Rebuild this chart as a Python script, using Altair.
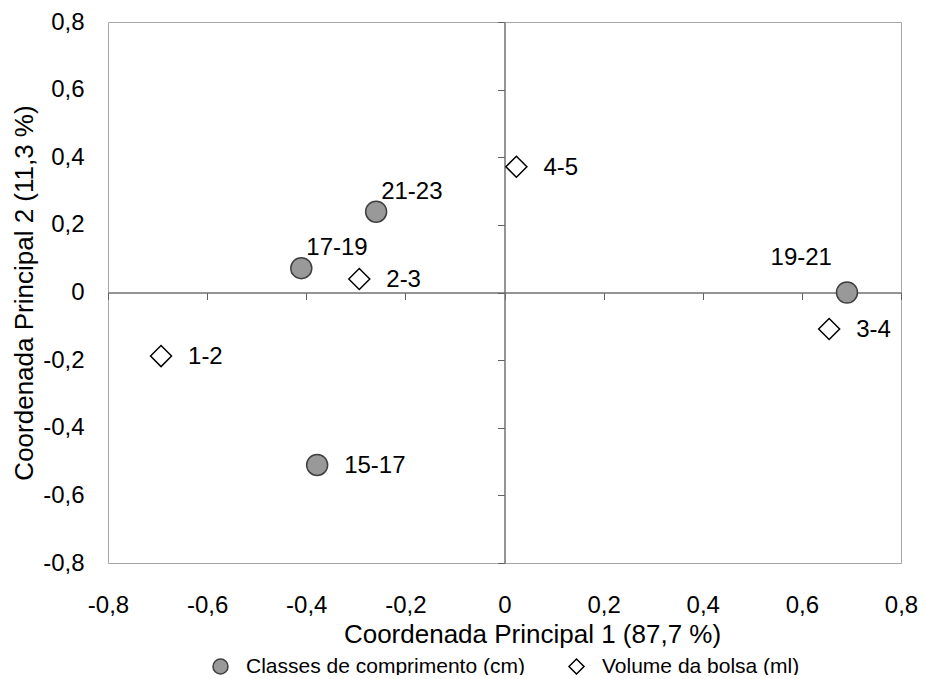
import altair as alt
import pandas as pd

# --- data ---
labels = ["15-17", "17-19", "19-21", "21-23", "1-2", "2-3", "3-4", "4-5"]
coord1 = [-0.378, -0.410, 0.691, -0.259, -0.693, -0.293, 0.655, 0.024]
coord2 = [-0.510, 0.072, 0.000, 0.239, -0.188, 0.040, -0.108, 0.372]
series_names = ["Classes de comprimento (cm)", "Volume da bolsa (ml)"]
series = [series_names[0]] * 4 + [series_names[1]] * 4
tick_values = [-0.8, -0.6, -0.4, -0.2, 0, 0.2, 0.4, 0.6, 0.8]

x_title = "Coordenada Principal 1 (87,7 %)"
y_title = "Coordenada Principal 2 (11,3 %)"

df = pd.DataFrame({"label": labels, "x": coord1, "y": coord2, "serie": series})

W, H = 793, 541
FONT = "Liberation Sans"
label_expr = "datum.value == 0 ? '0' : (datum.value < 0 ? '-' : '') + replace(format(abs(datum.value), '.1f'), '.', ',')"

xscale = alt.Scale(domain=[-0.8, 0.8], nice=False, zero=False)
yscale = alt.Scale(domain=[-0.8, 0.8], nice=False, zero=False)

base = alt.Chart(df)

# central axes (zero lines with tick marks)
center = base.mark_point(opacity=0).encode(
    x=alt.X("x:Q", scale=xscale, axis=alt.Axis(
        orient="bottom", offset=-H / 2, labels=False, ticks=True, tickSize=7,
        tickColor="#606060", tickWidth=1, domain=True, domainColor="#707070",
        domainWidth=1.5, grid=False, title=None, values=tick_values)),
    y=alt.Y("y:Q", scale=yscale, axis=alt.Axis(
        orient="left", offset=-W / 2, labels=False, ticks=True, tickSize=7,
        tickColor="#606060", tickWidth=1, domain=True, domainColor="#707070",
        domainWidth=1.5, grid=False, title=None, values=tick_values)),
)

def make_legend():
    return alt.Legend(title=None, orient="none", direction="horizontal",
                      legendX=102, legendY=634, labelFont=FONT,
                      labelFontSize=21, labelColor="black", labelLimit=600,
                      symbolSize=225, symbolStrokeWidth=1.5,
                      labelOffset=15, columnPadding=41)

points = base.mark_point(filled=True, opacity=1, strokeWidth=1.5).encode(
    x=alt.X("x:Q", scale=xscale, axis=alt.Axis(
        orient="bottom", values=tick_values, labelExpr=label_expr, ticks=False,
        domain=False, grid=False, labelPadding=30, labelFontSize=24,
        labelFlush=False, labelOverlap=False,
        labelColor="black", labelFont=FONT, title=x_title, titleFont=FONT,
        titleFontSize=26, titleFontWeight="normal", titleColor="black",
        titlePadding=4, titleX=424)),
    y=alt.Y("y:Q", scale=yscale, axis=alt.Axis(
        orient="left", values=tick_values, labelExpr=label_expr, ticks=False,
        domain=False, grid=False, labelPadding=24, labelFontSize=24,
        labelFlush=False, labelOverlap=False,
        labelColor="black", labelFont=FONT, title=y_title, titleFont=FONT,
        titleFontSize=26, titleFontWeight="normal", titleColor="black",
        titlePadding=5)),
    shape=alt.Shape("serie:N", scale=alt.Scale(domain=series_names, range=["circle", "diamond"]),
                    legend=make_legend()),
    fill=alt.Fill("serie:N", scale=alt.Scale(domain=series_names, range=["#999999", "#ffffff"]),
                  legend=make_legend()),
    stroke=alt.Stroke("serie:N", scale=alt.Scale(domain=series_names, range=["#404040", "#000000"]),
                      legend=make_legend()),
    size=alt.value(441),
)

def text_layer(names, align, dx, dy):
    return base.transform_filter(
        alt.FieldOneOfPredicate(field="label", oneOf=names)
    ).mark_text(align=align, baseline="middle", dx=dx, dy=dy, font=FONT,
                fontSize=24, color="black").encode(
        x=alt.X("x:Q", scale=xscale, axis=None),
        y=alt.Y("y:Q", scale=yscale, axis=None),
        text="label:N",
    )

t_right = text_layer(["4-5", "2-3", "1-2", "15-17", "3-4"], "left", 27, 1)
t_above = text_layer(["21-23", "17-19"], "left", 5, -20)
t_left = text_layer(["19-21"], "right", -15, -35)

chart = alt.layer(center, points, t_right, t_above, t_left).resolve_axis(
    x="independent", y="independent"
).properties(
    width=W, height=H,
    autosize=alt.AutoSizeParams(type="none"),
    padding={"left": 100, "top": 14, "right": 17, "bottom": 112},
    background="white",
).configure_view(stroke="#a6a6a6", strokeWidth=1)

chart.save("out.html", embed_options={"renderer": "svg", "actions": False})
